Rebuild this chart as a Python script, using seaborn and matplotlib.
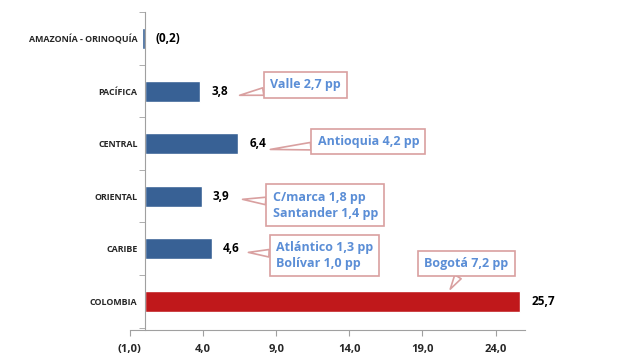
import matplotlib
matplotlib.use("Agg")
import matplotlib.pyplot as plt
import seaborn as sns
import pandas as pd

# data (pp contribution by region)
regiones = ["AMAZONÍA - ORINOQUÍA", "PACÍFICA", "CENTRAL", "ORIENTAL", "CARIBE", "COLOMBIA"]
valores = [-0.2, 3.8, 6.4, 3.9, 4.6, 25.7]
etiquetas = ["(0,2)", "3,8", "6,4", "3,9", "4,6", "25,7"]
colores = ["#386195", "#386195", "#386195", "#386195", "#386195", "#C0181B"]

x_ticks = [-1, 4, 9, 14, 19, 24]
x_labels = ["(1,0)", "4,0", "9,0", "14,0", "19,0", "24,0"]

# callouts: text, box centre (x, y), tail point (x, y)
notas = ["Valle 2,7 pp", "Antioquia 4,2 pp", "C/marca 1,8 pp\nSantander 1,4 pp",
         "Atlántico 1,3 pp\nBolívar 1,0 pp", "Bogotá 7,2 pp"]
notas_pos = [(11.0, 0.88), (15.3, 1.96), (12.35, 3.17), (12.3, 4.13), (22.0, 4.28)]
notas_punta = [(6.5, 1.08), (8.6, 2.11), (6.7, 3.06), (7.1, 4.07), (20.9, 4.77)]

df = pd.DataFrame({"region": regiones, "valor": valores})

sns.set_style("white")
plt.rcParams["font.family"] = ["Open Sans", "DejaVu Sans"]

fig = plt.figure(figsize=(6.4, 3.62), dpi=100)
ax = fig.add_axes([0.203, 0.088, 0.617, 0.878])

sns.barplot(data=df, x="valor", y="region", hue="region", palette=colores,
            legend=False, width=0.4, orient="h", ax=ax, saturation=1)

ax.set_xlim(-1, 26)
ax.set_ylim(5.55, -0.5)
ax.set_xlabel("")
ax.set_ylabel("")

for i, (v, lab) in enumerate(zip(valores, etiquetas)):
    ax.annotate(lab, (max(v, 0), i), xytext=(8, 0), textcoords="offset points",
                ha="left", va="center", fontsize=8.5, fontweight="bold", color="black")

for txt, pos, punta in zip(notas, notas_pos, notas_punta):
    ax.annotate(txt, xy=punta, xytext=pos, ha="center", va="center", multialignment="left",
                fontsize=9, fontweight="bold", color="#5B8ED6", linespacing=1.3,
                bbox=dict(boxstyle="square,pad=0.5", fc="white", ec="#D9A0A0", lw=1.2),
                arrowprops=dict(arrowstyle="wedge,tail_width=0.6,shrink_factor=0.5",
                                fc="white", ec="#D9A0A0", lw=1.2, shrinkA=0, shrinkB=0))

for s in ["top", "right"]:
    ax.spines[s].set_visible(False)
ax.spines["left"].set_position(("data", 0))
ax.spines["left"].set_color("#A0A0A0")
ax.spines["bottom"].set_color("#A0A0A0")
ax.spines["left"].set_zorder(5)

ax.set_xticks(x_ticks)
ax.set_xticklabels(x_labels, fontsize=8, fontweight="bold")
ax.tick_params(axis="x", length=4, color="#A0A0A0", bottom=True, pad=6)

ax.set_yticks(range(len(regiones)))
ax.set_yticklabels(regiones, fontsize=6.4, fontweight="bold")
ax.set_yticks([k - 0.5 for k in range(len(regiones) + 1)], minor=True)
ax.tick_params(axis="y", which="major", length=0, pad=5)
ax.tick_params(axis="y", which="minor", length=4, color="#A0A0A0", left=True)

fig.savefig("out.png", dpi=100)
